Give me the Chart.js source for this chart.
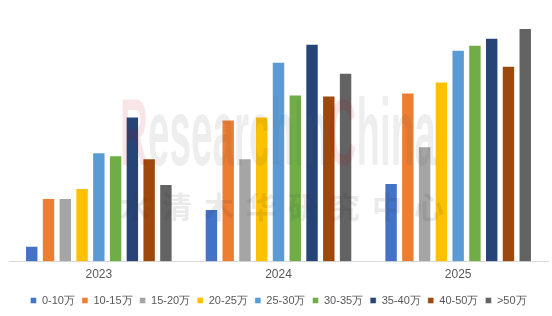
<!DOCTYPE html>
<html>
<head>
<meta charset="utf-8">
<script src="https://cdn.jsdelivr.net/npm/chart.js@4.4.0/dist/chart.umd.min.js"></script>
<style>
  html, body { margin: 0; padding: 0; background: #fff; }
  #wrap { width: 552px; height: 316px; }
</style>
</head>
<body>
<div id="wrap"><canvas id="myChart" width="552" height="316"></canvas></div>
<script>
const years = ['2023', '2024', '2025'];

const seriesNames = ['0-10万', '10-15万', '15-20万', '20-25万', '25-30万', '30-35万', '35-40万', '40-50万', '>50万'];
const seriesColors = ['#4472C4', '#ED7D31', '#A5A5A5', '#FFC000', '#5B9BD5', '#70AD47', '#264478', '#9E480E', '#636363'];

// one value per year (no axis shown, arbitrary units)
const v0to10 = [16, 53, 79];
const v10to15 = [64, 143, 170];
const v15to20 = [64, 104, 116];
const v20to25 = [74, 146, 181];
const v25to30 = [110, 201, 213];
const v30to35 = [107, 168, 218];
const v35to40 = [146, 219, 225];
const v40to50 = [104, 167, 197];
const vOver50 = [78, 190, 235];

const allValues = [v0to10, v10to15, v15to20, v20to25, v25to30, v30to35, v35to40, v40to50, vOver50];

const datasets = seriesNames.map((name, i) => ({
  label: name,
  data: allValues[i],
  backgroundColor: seriesColors[i],
  borderColor: 'rgba(255,255,255,0.45)',
  borderWidth: 1,
  barPercentage: 0.8,
  categoryPercentage: 0.84
}));

// faint watermark like the original
const watermark = {
  id: 'watermark',
  afterDatasetsDraw(chart) {
    const c = chart.ctx;
    c.save();
    c.globalAlpha = 0.1;
    c.font = 'bold 94px "Liberation Sans Narrow", "Liberation Sans", sans-serif';
    c.textBaseline = 'alphabetic';
    const parts = [['R', '#c00000'], ['esearch', '#555'], ['In', '#555'], ['C', '#c00000'], ['hina', '#555']];
    const full = parts.map(p => p[0]).join('');
    const sx = 316 / c.measureText(full).width;
    c.translate(120, 165);
    c.scale(sx, 1);
    let x = 0;
    parts.forEach(p => {
      c.fillStyle = p[1];
      c.fillText(p[0], x, 0);
      x += c.measureText(p[0]).width;
    });
    c.restore();

    c.save();
    c.globalAlpha = 0.1;
    c.fillStyle = '#333';
    c.font = 'bold 30px "Noto Sans CJK SC", sans-serif';
    c.textBaseline = 'middle';
    const chars = '水清木华研究中心'.split('');
    chars.forEach((ch, k) => {
      c.fillText(ch, 120 + k * 42, 207);
    });
    c.restore();
  }
};

const ctx = document.getElementById('myChart');

const myChart = new Chart(ctx, {
  type: 'bar',
  data: {
    labels: years,
    datasets: datasets
  },
  options: {
    responsive: false,
    animation: false,
    layout: { padding: { top: 13, left: 9, right: 4, bottom: 0 } },
    plugins: {
      tooltip: { enabled: false },
      legend: {
        position: 'bottom',
        labels: {
          boxWidth: 6,
          boxHeight: 6,
          padding: 7,
          color: '#595959',
          font: { family: '"Liberation Sans", Arial, sans-serif', size: 11 }
        }
      }
    },
    scales: {
      x: {
        grid: { display: false, drawTicks: false },
        border: { display: true, color: '#d9d9d9' },
        ticks: {
          color: '#595959',
          padding: 6,
          font: { family: '"Liberation Sans", Arial, sans-serif', size: 12 }
        }
      },
      y: {
        display: false,
        min: 0,
        max: 250
      }
    }
  },
  plugins: [watermark]
});
</script>
</body>
</html>
